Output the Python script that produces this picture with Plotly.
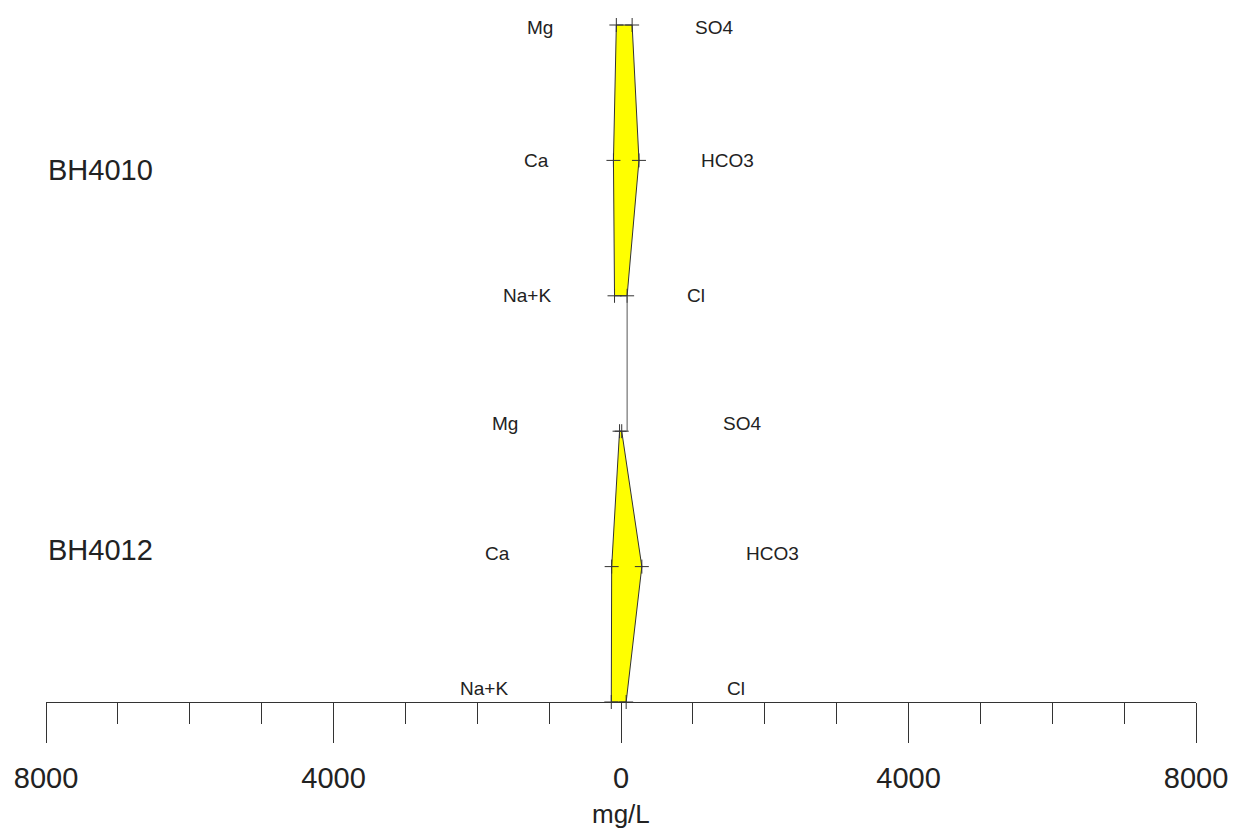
import plotly.graph_objects as go

# Stiff diagram data (mg/L)
samples = ["BH4010", "BH4012"]
cation_names = ["Mg", "Ca", "Na+K"]
anion_names = ["SO4", "HCO3", "Cl"]
cations = {
    "BH4010": [65, 105, 90],
    "BH4012": [20, 130, 135],
}
anions = {
    "BH4010": [155, 250, 85],
    "BH4012": [10, 290, 72],
}
tick_values = [-8000, -4000, 0, 4000, 8000]
tick_labels = ["8000", "4000", "0", "4000", "8000"]
minor_values = [-7000, -6000, -5000, -3000, -2000, -1000,
                1000, 2000, 3000, 5000, 6000, 7000]

FONT = "Arial, Liberation Sans, sans-serif"
INK = "#222222"
ROW_STEP = 3  # rows per sample block

# label placement (x in mg/L, y offset in row units)
cat_label_x = {"BH4010": [-1130, -1170, -1310], "BH4012": [-1620, -1720, -1900]}
an_label_x = {"BH4010": [1300, 1480, 1040], "BH4012": [1690, 2110, 1600]}
label_dy = {"BH4010": [-0.015, 0.0, 0.0], "BH4012": [0.06, 0.095, 0.1]}
name_y = {"BH4010": 3.93, "BH4012": 1.12}

fig = go.Figure()
annotations = []

for k, s in enumerate(samples):
    top = (len(samples) - 1 - k) * ROW_STEP + 2
    rows = [top, top - 1, top - 2]
    cx = [-v for v in cations[s]]
    ax = anions[s]
    px = cx + ax[::-1] + [cx[0]]
    py = rows + rows[::-1] + [rows[0]]
    fig.add_trace(go.Scatter(
        x=px, y=py, mode="lines", fill="toself",
        fillcolor="#ffff00", line=dict(color="#333333", width=1),
        hoverinfo="skip", showlegend=False,
    ))
    fig.add_trace(go.Scatter(
        x=cx + ax, y=rows + rows, mode="markers",
        marker=dict(symbol="cross-thin", size=10,
                    line=dict(color="#333333", width=1)),
        hoverinfo="skip", showlegend=False, cliponaxis=False,
    ))
    for j in range(3):
        annotations.append(dict(
            x=cat_label_x[s][j], y=rows[j] + label_dy[s][j], text=cation_names[j],
            showarrow=False, font=dict(family=FONT, size=19, color=INK),
            xanchor="center", yanchor="middle"))
        annotations.append(dict(
            x=an_label_x[s][j], y=rows[j] + label_dy[s][j], text=anion_names[j],
            showarrow=False, font=dict(family=FONT, size=19, color=INK),
            xanchor="center", yanchor="middle"))
    annotations.append(dict(
        x=-8000, y=name_y[s], text=s, showarrow=False,
        font=dict(family=FONT, size=29, color=INK),
        xanchor="left", yanchor="middle"))

# connector between the two diagrams
x_conn = anions[samples[0]][2]
fig.add_trace(go.Scatter(
    x=[x_conn, x_conn], y=[ROW_STEP, ROW_STEP - 1], mode="lines",
    line=dict(color="#555555", width=1), hoverinfo="skip", showlegend=False,
))

annotations.append(dict(
    x=0, y=-0.16, xref="x", yref="paper", text="mg/L", showarrow=False,
    font=dict(family=FONT, size=26, color=INK), xanchor="center", yanchor="middle"))

fig.update_layout(
    width=1235, height=834,
    margin=dict(l=46, r=39, t=0, b=132),
    paper_bgcolor="white", plot_bgcolor="white",
    annotations=annotations,
    xaxis=dict(
        range=[-8000, 8000], showgrid=False, zeroline=False,
        showline=True, linecolor="#333333", linewidth=1,
        tickmode="array", tickvals=tick_values, ticktext=tick_labels,
        ticks="outside", ticklen=40, tickcolor="#333333", tickwidth=1,
        ticklabelstandoff=10,
        tickfont=dict(family=FONT, size=29, color=INK),
        minor=dict(tickmode="array", tickvals=minor_values, ticks="outside",
                   ticklen=21, tickcolor="#333333", tickwidth=1),
    ),
    yaxis=dict(range=[0, 702 / 135.4], visible=False),
)

fig.write_html("out.html")
